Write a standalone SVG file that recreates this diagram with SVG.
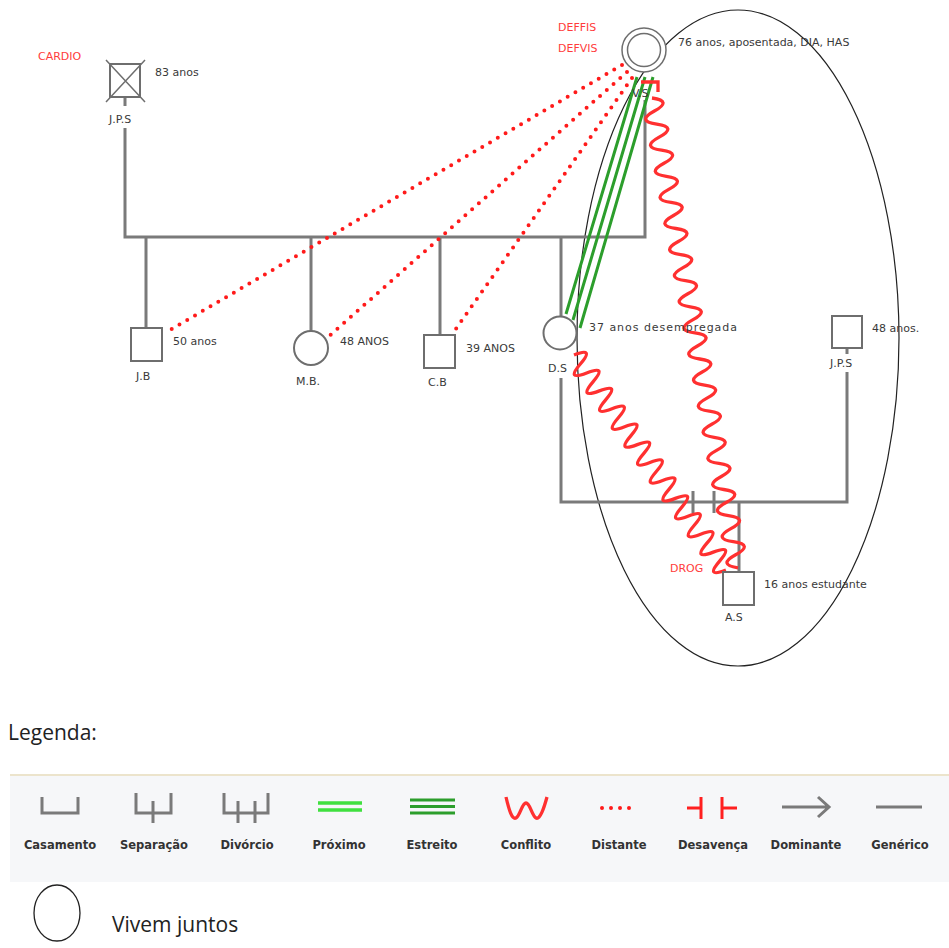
<svg xmlns="http://www.w3.org/2000/svg" width="949" height="948" viewBox="0 0 949 948">
<style>
.ln{fill:none;stroke:#7a7a7a;stroke-width:3}
.sym{fill:#fff;stroke:#6e6e6e;stroke-width:2}
.t{font-family:"DejaVu Sans",sans-serif;font-size:11px;fill:#3a3a3a}
.r{font-family:"DejaVu Sans",sans-serif;font-size:11px;fill:#ff3b3b}
.dist{fill:none;stroke:#ff1a1a;stroke-width:4;stroke-linecap:round;stroke-dasharray:0 9}
.conf{fill:none;stroke:#ff3030;stroke-width:3.3}
.est{fill:none;stroke:#2c9e2c;stroke-width:3}
.lg{font-family:"DejaVu Sans",sans-serif;font-size:11.5px;font-weight:bold;fill:#333;text-anchor:middle}
.cal{font-family:"Open Sans","Liberation Sans",sans-serif;font-size:21px;fill:#222}
</style>
<rect width="949" height="948" fill="#fff"/>

<g id="household">
<ellipse cx="738" cy="338" rx="161" ry="328" fill="none" stroke="#222" stroke-width="1.2"/>
</g>

<g id="connectors">
<path class="ln" d="M125,98 V106 M125,128 V237 H645 V100"/>
<path class="ln" d="M146,237 V328 M311,237 V331 M440,237 V335 M561,237 V316"/>
<path class="ln" d="M561,378 V502 H847 V372 M847,348 V354"/>
<path class="ln" d="M739,502 V572 M693,491 V513 M714,491 V513"/>
<path class="dist" d="M622,65 L165,333"/>
<path class="dist" d="M627,72 L327,338"/>
<path class="dist" d="M632,78 L453,333"/>
<path class="est" d="M637,77 L566,314 M645,77 L573,320 M653,77 L580,328"/>
<path class="conf" d="M641,82 H658 V92 M652,98 q20.87,2.93 2.39,13.05 t2.39,13.05 t2.39,13.05 t2.39,13.05 t2.39,13.05 t2.39,13.05 t2.39,13.05 t2.39,13.05 t2.39,13.05 t2.39,13.05 t2.39,13.05 t2.39,13.05 t2.39,13.05 t2.39,13.05 t2.39,13.05 t2.39,13.05 t2.39,13.05 t2.39,13.05 t2.39,13.05 t2.39,13.05 t2.39,13.05 t2.39,13.05 t2.39,13.05 t2.39,13.05 t2.39,13.05 t2.39,13.05 t2.39,13.05 t2.39,13.05 t2.39,13.05 t2.39,13.05 t2.39,13.05 t2.39,13.05 t2.39,13.05 t2.39,13.05 t2.39,13.05 t2.39,13.05"/>
<path class="conf" d="M574,355 q21.14,-8.22 6.33,8.96 t6.33,8.96 t6.33,8.96 t6.33,8.96 t6.33,8.96 t6.33,8.96 t6.33,8.96 t6.33,8.96 t6.33,8.96 t6.33,8.96 t6.33,8.96 t6.33,8.96 t6.33,8.96 t6.33,8.96 t6.33,8.96 t6.33,8.96 t6.33,8.96 t6.33,8.96 t6.33,8.96 t6.33,8.96 t6.33,8.96 t6.33,8.96 t6.33,8.96 t6.33,8.96"/>
</g>

<g id="JPS_elder">
<rect class="sym" x="110" y="64" width="30" height="33"/>
<path d="M106,60 L145,102 M145,60 L106,102" stroke="#6e6e6e" stroke-width="1.5" fill="none"/>
<text class="t" x="155" y="76">83 anos</text>
<text class="t" x="109" y="123" font-size="10">J.P.S</text>
<text class="r" x="38" y="60">CARDIO</text>
</g>

<g id="VS">
<circle cx="644" cy="50" r="22" fill="#fff" stroke="#6e6e6e" stroke-width="1.5"/>
<circle cx="644" cy="50" r="16.5" fill="none" stroke="#6e6e6e" stroke-width="1.5"/>
<text class="t" x="678" y="46">76 anos, aposentada, DIA, HAS</text>
<text class="t" x="632" y="97" font-size="10">V.S</text>
<text class="r" x="558" y="31">DEFFIS</text>
<text class="r" x="558" y="52">DEFVIS</text>
</g>

<g id="JB">
<rect class="sym" x="131" y="328" width="31" height="33"/>
<text class="t" x="173" y="345">50 anos</text>
<text class="t" x="136" y="380" font-size="10">J.B</text>
</g>

<g id="MB">
<circle class="sym" cx="311" cy="348" r="17"/>
<text class="t" x="340" y="345">48 ANOS</text>
<text class="t" x="296" y="385" font-size="10">M.B.</text>
</g>

<g id="CB">
<rect class="sym" x="424" y="335" width="31" height="33"/>
<text class="t" x="466" y="352">39 ANOS</text>
<text class="t" x="428" y="386" font-size="10">C.B</text>
</g>

<g id="DS">
<circle class="sym" cx="560" cy="333" r="16.5"/>
<text class="t" x="589" y="331" textLength="148">37 anos desempregada</text>
<text class="t" x="548" y="372" font-size="10">D.S</text>
</g>

<g id="JPS_partner">
<rect class="sym" x="832" y="316" width="30" height="32"/>
<text class="t" x="872" y="332">48 anos.</text>
<text class="t" x="830" y="367" font-size="10">J.P.S</text>
</g>

<g id="AS">
<rect class="sym" x="723" y="572" width="31" height="33"/>
<text class="t" x="764" y="588">16 anos estudante</text>
<text class="t" x="725" y="621" font-size="10">A.S</text>
<text class="r" x="670" y="572">DROG</text>
</g>

<g id="legend">
<text class="cal" x="8" y="740">Legenda:</text>
<rect x="10" y="776" width="939" height="106" fill="#f6f7f9"/>
<line x1="10" y1="775" x2="949" y2="775" stroke="#ece4cc" stroke-width="2"/>
<path class="ln" d="M42,797 V813 H78 V797"/>
<path class="ln" d="M136,793 V813 H171 V793 M153,801 V823"/>
<path class="ln" d="M224,793 V813 H268 V793 M238,801 V823 M255,801 V823"/>
<path d="M318,803 H362 M318,810 H362" stroke="#3fe03f" stroke-width="3.5" fill="none"/>
<path d="M410,800 H455 M410,806.5 H455 M410,813 H455" stroke="#2c9e2c" stroke-width="3" fill="none"/>
<path class="conf" d="M506,797 C509,810 512,820 516,818 C520,816 522,803 526,803 C530,803 532,816 536,818 C540,820 544,808 547,797"/>
<path class="dist" d="M602,808 H638" stroke-dasharray="0 11"/>
<path d="M687,808 H701 M701,797 V819 M722,797 V819 M722,808 H737" stroke="#ff2020" stroke-width="3" fill="none"/>
<path class="ln" d="M782,807 H829 M818,797 L829,807 L818,817"/>
<path class="ln" d="M876,807 H922"/>
<text class="lg" x="60" y="849">Casamento</text>
<text class="lg" x="154" y="849">Separação</text>
<text class="lg" x="247" y="849">Divórcio</text>
<text class="lg" x="339" y="849">Próximo</text>
<text class="lg" x="432" y="849">Estreito</text>
<text class="lg" x="526" y="849">Conflito</text>
<text class="lg" x="619" y="849">Distante</text>
<text class="lg" x="713" y="849">Desavença</text>
<text class="lg" x="806" y="849">Dominante</text>
<text class="lg" x="900" y="849">Genérico</text>
<ellipse cx="57" cy="913" rx="23" ry="28" fill="none" stroke="#222" stroke-width="1.3"/>
<text class="cal" x="112" y="932">Vivem juntos</text>
</g>
</svg>
